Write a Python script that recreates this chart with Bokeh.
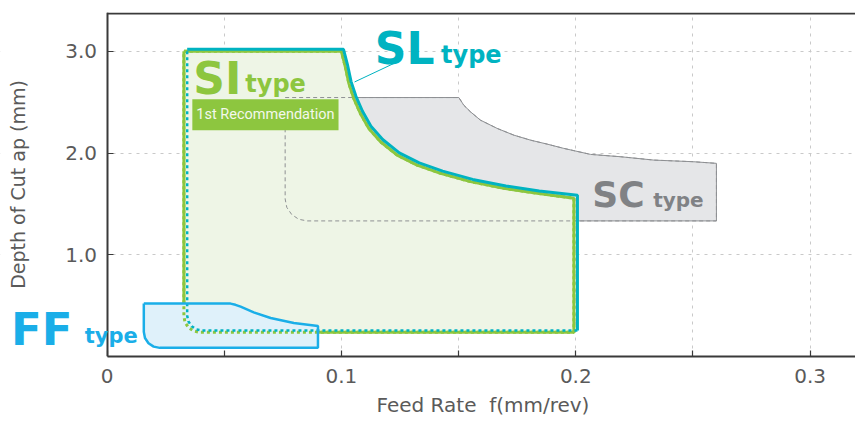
from bokeh.plotting import figure
from bokeh.models import Range1d, FixedTicker, NumeralTickFormatter, Label, BoxAnnotation, Title
from bokeh.embed import file_html
from bokeh.resources import INLINE

# ---- data ----
x_ticks = [0, 0.1, 0.2, 0.3]
x_minor_ticks = [0.05, 0.15, 0.25]
y_ticks = [1.0, 2.0, 3.0]

# SI type (green) boundary
si_x = [0.0328, 0.1000, 0.1017, 0.1032, 0.1053, 0.1081, 0.1117, 0.1167, 0.1238, 0.1323, 0.1423, 0.1551, 0.1693, 0.1835, 0.1992,
        0.1992, 0.0396, 0.0370, 0.0348, 0.0333, 0.0328]
si_y = [3.000, 3.000, 2.846, 2.683, 2.536, 2.389, 2.242, 2.111, 1.980, 1.882, 1.801, 1.719, 1.654, 1.605, 1.556,
        0.238, 0.238, 0.250, 0.284, 0.335, 0.395]

# SL type (cyan) boundary
sl_x = [0.0342, 0.1009, 0.1026, 0.1041, 0.1062, 0.1090, 0.1126, 0.1176, 0.1247, 0.1332, 0.1432, 0.1560, 0.1702, 0.1844, 0.2007,
        0.2007, 0.0406, 0.0382, 0.0361, 0.0347, 0.0342]
sl_y = [3.020, 3.020, 2.868, 2.705, 2.558, 2.411, 2.264, 2.133, 2.002, 1.904, 1.823, 1.741, 1.676, 1.627, 1.585,
        0.255, 0.255, 0.266, 0.298, 0.346, 0.402]
SL_SOLID_END = 15  # top, curve and right edge are solid

# SC type (grey) boundary
sc_x = [0.0760, 0.1501, 0.1522, 0.1551, 0.1593, 0.1665, 0.1736, 0.1807, 0.1878, 0.1949, 0.2063, 0.2191, 0.2333, 0.2501, 0.2600,
        0.2600, 0.0854, 0.0818, 0.0788, 0.0767, 0.0760]
sc_y = [2.546, 2.546, 2.471, 2.405, 2.324, 2.242, 2.176, 2.127, 2.088, 2.046, 1.987, 1.964, 1.931, 1.915, 1.899,
        1.333, 1.333, 1.349, 1.396, 1.466, 1.549]

# FF type (blue) boundary
ff_x = [0.0157, 0.0527, 0.0548, 0.0570, 0.0626, 0.0698, 0.0797, 0.0900, 0.0900, 0.0225, 0.0199, 0.0177, 0.0162, 0.0157]
ff_y = [0.520, 0.520, 0.508, 0.490, 0.434, 0.379, 0.330, 0.300, 0.085, 0.085, 0.097, 0.131, 0.182, 0.242]

# SL label leader line
sl_leader_x = [0.1234, 0.1056]
sl_leader_y = [2.892, 2.699]

# top frame line of the chart area
top_line_x = [0, 0.3193]
top_line_y = [3.373, 3.373]

GREEN = "#8dc63f"
GREEN_FILL = "#eef5e6"
CYAN = "#00b3c1"
FF_BLUE = "#1aaee8"
FF_FILL = "#dff1fa"
SC_FILL = "#e5e6e8"
SC_LINE = "#8e9093"
SC_TEXT = "#808285"
AXIS = "#3a3a3a"
TXT = "#5a5a5a"


def closed(a):
    return list(a) + [a[0]]


p = figure(width=855, height=421, output_backend="svg", toolbar_location=None,
           x_range=Range1d(-0.04544, 0.31933), y_range=Range1d(0, 3.382),
           min_border_left=0, min_border_right=0, min_border_top=12, min_border_bottom=64)
p.outline_line_color = None
p.background_fill_color = "white"
p.border_fill_color = "white"

# axes
p.xaxis.ticker = FixedTicker(ticks=x_ticks, minor_ticks=x_minor_ticks)
p.yaxis.ticker = FixedTicker(ticks=y_ticks)
p.xaxis.formatter = NumeralTickFormatter(format="0.[0]")
p.yaxis.formatter = NumeralTickFormatter(format="0.0")
p.yaxis.fixed_location = 0
p.xaxis.bounds = (0, 0.31933)
for ax in (p.xaxis, p.yaxis):
    ax.axis_line_color = AXIS
    ax.axis_line_width = 2
    ax.major_tick_line_color = AXIS
    ax.minor_tick_line_color = AXIS
    ax.major_tick_in = 6
    ax.major_tick_out = 0
    ax.minor_tick_in = 6
    ax.minor_tick_out = 0
    ax.major_tick_line_width = 1.2
    ax.minor_tick_line_width = 1.2
    ax.major_label_text_font = "DejaVu Sans"
    ax.major_label_text_font_size = "20px"
    ax.major_label_text_color = TXT
    ax.axis_label_text_font = "DejaVu Sans"
    ax.axis_label_text_font_size = "19px"
    ax.axis_label_text_font_style = "normal"
    ax.axis_label_text_color = TXT
p.yaxis.minor_tick_line_color = None
p.yaxis.axis_label = "Depth of Cut ap (mm)"
p.xaxis.major_label_standoff = 12
p.yaxis.major_label_standoff = 10
p.yaxis.axis_label_standoff = 34

# x axis title, placed under the chart area
p.add_layout(Title(text="Feed Rate\u00a0 f(mm/rev)", align="left", offset=376, standoff=10,
                   text_font="DejaVu Sans", text_font_size="20px", text_font_style="normal",
                   text_color=TXT), "below")

# grid
for g in (p.xgrid, p.ygrid):
    g.grid_line_color = "#c9c9c9"
    g.grid_line_dash = "3 5"
    g.grid_line_width = 1
p.xgrid.minor_grid_line_color = "#c9c9c9"
p.xgrid.minor_grid_line_dash = "3 5"
p.xgrid.minor_grid_line_width = 1

# hide grid left of the y axis
p.add_layout(BoxAnnotation(right=0, fill_color="white", fill_alpha=1, line_color=None, level="underlay"))

# top frame line
p.line(top_line_x, top_line_y, line_color=AXIS, line_width=2)

# SC region
p.patch(sc_x, sc_y, fill_color=SC_FILL, line_color=None)
p.line(closed(sc_x), closed(sc_y), line_color=SC_LINE, line_width=1)

# SI fill
p.patch(si_x, si_y, fill_color=GREEN_FILL, line_color=None)
# SC dashed outline over SI
p.line(closed(sc_x), closed(sc_y), line_color=SC_LINE, line_width=1, line_dash="4 3")
# SI solid outline
p.line(closed(si_x), closed(si_y), line_color=GREEN, line_width=3)

# FF fill
p.patch(ff_x, ff_y, fill_color=FF_FILL, line_color=None)

# SI dotted outline (visible within FF)
p.line(closed(si_x), closed(si_y), line_color=GREEN, line_width=3, line_dash="3 3")

# SL outline: solid top/curve/right, dotted bottom/left
p.line(sl_x[:SL_SOLID_END + 1], sl_y[:SL_SOLID_END + 1], line_color=CYAN, line_width=3)
p.line(sl_x[SL_SOLID_END:] + [sl_x[0]], sl_y[SL_SOLID_END:] + [sl_y[0]], line_color=CYAN, line_width=2.5, line_dash="3 3")

# FF outline
p.line(closed(ff_x), closed(ff_y), line_color=FF_BLUE, line_width=2.5)

# leader
p.line(sl_leader_x, sl_leader_y, line_color=CYAN, line_width=1)


# labels
def lab(x, y, text, color, size):
    p.add_layout(Label(x=x, y=y, text=text, text_color=color, text_font="DejaVu Sans",
                       text_font_size=size, text_font_style="bold", text_baseline="alphabetic"))


lab(0.1142, 3.030, "SL", CYAN, "44px")
lab(0.1425, 2.967, "type", CYAN, "24px")
lab(0.0368, 2.735, "SI", GREEN, "44px")
lab(0.0590, 2.683, "type", GREEN, "24px")
lab(0.2070, 1.588, "SC", SC_TEXT, "36px")
lab(0.2330, 1.543, "type", SC_TEXT, "20px")
lab(-0.0410, 0.265, "FF", FF_BLUE, "45px")
lab(-0.0095, 0.204, "type", FF_BLUE, "21px")

p.add_layout(Label(x=0.0364, y=2.377, text="1st Recommendation", text_color="#f3f8ec",
                   text_font="Roboto", text_font_size="14.5px", text_baseline="middle",
                   background_fill_color=GREEN, padding=dict(left=4, right=4, top=7, bottom=7)))

open("out.html", "w").write(file_html(p, INLINE))
